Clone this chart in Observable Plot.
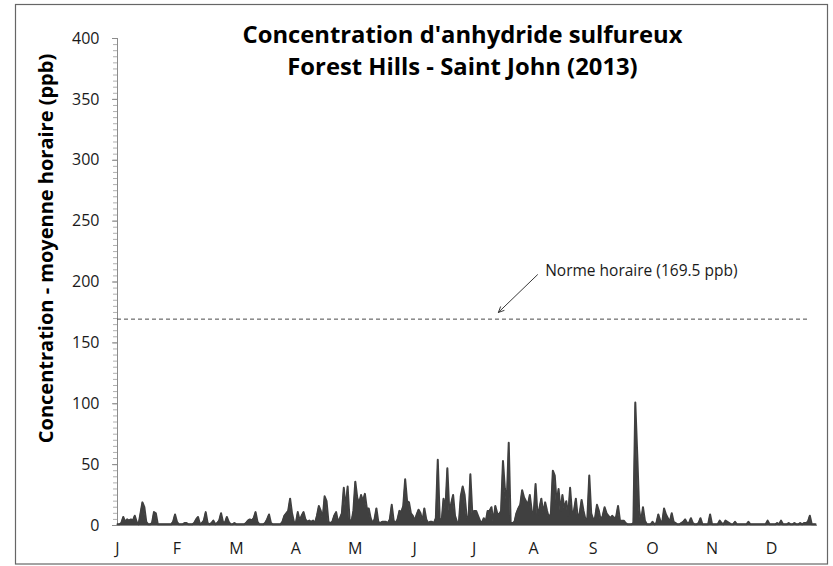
<!DOCTYPE html>
<html>
<head>
<meta charset="utf-8">
<script src="https://cdn.jsdelivr.net/npm/d3@7"></script>
<script src="https://cdn.jsdelivr.net/npm/@observablehq/plot@0.6"></script>
<style>
  html, body { margin: 0; padding: 0; background: #fff; }
  svg { display: block; }
</style>
</head>
<body>
<script>
// Daily peak hourly SO2 values (ppb), one value per day
const jan = [1,1,2,7,3,5,4,5,4,8,3,1,10,19,15,3,1,1,2,11,10,1,1,1,1,1,1,1,1,3,9];
const feb = [3,1,1,1,2,2,1,1,1,2,5,7,1,2,4,11,2,1,2,4,1,2,4,10,3,2,7,3];
const mar = [1,1,2,1,1,1,1,1,2,4,5,4,6,11,3,1,1,1,2,5,9,2,1,1,1,1,1,3,8,10,12];
const apr = [22,10,3,2,11,4,8,11,5,3,4,3,4,2,8,16,12,6,24,20,3,2,3,8,11,3,6,10,31,14];
const may = [32,5,3,12,36,23,18,25,20,26,14,14,6,2,5,14,3,2,3,3,3,2,5,17,4,2,5,12,11,16,38];
const jun = [20,19,10,8,4,9,13,10,3,14,5,2,3,3,2,6,54,6,3,22,14,47,12,18,25,8,3,2,24,32];
const jul = [25,8,3,42,10,12,12,8,4,2,6,3,12,12,15,3,16,10,9,12,53,30,20,68,2,2,3,10,14,17,29];
const aug = [23,20,17,25,12,9,34,9,14,22,10,19,12,6,10,45,41,18,30,12,25,14,20,8,31,10,12,22,6,10,21];
const sep = [12,5,6,41,10,5,6,17,12,4,8,15,10,8,6,8,6,7,16,4,4,4,2,1,1,1,2,101,59,13];
const oct = [3,15,4,1,1,1,3,1,2,9,4,2,14,9,6,3,10,3,2,1,1,2,3,5,2,2,6,2,1,1,2];
const nov = [6,1,1,1,1,9,1,1,1,1,4,2,1,4,3,2,1,1,3,1,1,1,1,1,1,3,1,1,1,1];
const dec = [1,1,1,1,1,4,1,1,1,1,2,1,4,1,1,1,2,1,1,2,1,1,2,1,2,2,3,8,1,1,1];

const monthLabels = ["J","F","M","A","M","J","J","A","S","O","N","D"];
const labelStep = 31; // Excel category axis: one label every 744 hours (31 days)
const yTicks = [0,50,100,150,200,250,300,350,400];
const yMinorStep = 5;

const titleLines = ["Concentration d'anhydride sulfureux", "Forest Hills - Saint John (2013)"];
const yLabel = "Concentration - moyenne horaire (ppb)";
const norme = [{value: 169.5, x1: 0, x2: 361}];
const annotation = [{text: "Norme horaire (169.5 ppb)", x: 223, y: 209}];
const annotationArrow = [{x1: 219, y1: 206, x2: 198.6, y2: 175}];

const values = [jan,feb,mar,apr,may,jun,jul,aug,sep,oct,nov,dec].flat();
const series = values.map((v, i) => ({day: i, value: v}));
const labelDays = monthLabels.map((m, i) => i * labelStep);
const minorTicks = d3.range(0, 400 + 1e-9, yMinorStep);

const FONT = "'Open Sans', 'Liberation Sans', sans-serif";

const svg = Plot.plot({
  width: 833,
  height: 566,
  marginLeft: 117,
  marginRight: 16,
  marginTop: 38,
  marginBottom: 41,
  style: {fontFamily: FONT, fontSize: "15px", background: "#fff", color: "#1a1a1a", overflow: "visible"},
  x: {domain: [0, 365], axis: null},
  y: {domain: [0, 400], axis: null},
  marks: [
    // minor y ticks
    Plot.axisY({ticks: minorTicks, tickSize: 4, tickFormat: () => "", stroke: "#b0b0b0", label: null}),
    // major y ticks with labels
    Plot.axisY({ticks: yTicks, tickSize: 5, tickPadding: 13, fontSize: 16, stroke: "#8c8c8c", label: null, fill: "#1a1a1a"}),
    Plot.ruleX([0], {stroke: "#8c8c8c"}),
    // month labels
    Plot.axisX({ticks: labelDays, tickFormat: (d, i) => monthLabels[i], tickSize: 0, tickPadding: 17, fontSize: 16, label: null, fill: "#1a1a1a"}),
    Plot.ruleY([0], {stroke: "#8c8c8c"}),
    // data
    Plot.areaY(series, {x: "day", y: "value", fill: "#404040"}),
    Plot.lineY(series, {x: "day", y: "value", stroke: "#404040", strokeWidth: 2}),
    // norm line
    Plot.ruleY(norme, {y: "value", x1: "x1", x2: "x2", stroke: "#4a4a4a", strokeWidth: 1, strokeDasharray: "4,3"}),
    Plot.arrow(annotationArrow, {x1: "x1", y1: "y1", x2: "x2", y2: "y2", stroke: "#222", strokeWidth: 0.9, headLength: 10, headAngle: 50}),
    Plot.text(annotation, {x: "x", y: "y", text: "text", textAnchor: "start", fontSize: 15.5, fill: "#1a1a1a"}),
    // titles
    Plot.text([titleLines[0]], {frameAnchor: "top", lineAnchor: "top", dx: -5, dy: -12.5, fontSize: 23.8, fontWeight: "bold", fill: "#000"}),
    Plot.text([titleLines[1]], {frameAnchor: "top", lineAnchor: "top", dx: -5, dy: 19.5, fontSize: 23.8, fontWeight: "bold", fill: "#000"}),
    // y label
    Plot.text([yLabel], {frameAnchor: "left", textAnchor: "middle", rotate: -90, dx: -71, dy: -33.5, fontSize: 20, fontWeight: "bold", fill: "#000"})
  ]
});

d3.select(svg).append("rect")
  .attr("x", 15.5).attr("y", 4.5).attr("width", 812).attr("height", 559.5)
  .attr("fill", "none").attr("stroke", "#666").attr("stroke-width", 1.2);

document.body.appendChild(svg);
</script>
</body>
</html>
